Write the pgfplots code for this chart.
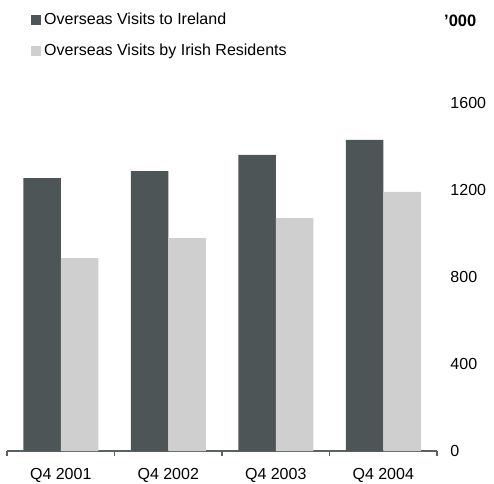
\documentclass[border=0pt]{standalone}
\usepackage{pgfplots}
\pgfplotsset{compat=1.18}
\usepackage{fontspec}
\setmainfont{Liberation Sans}
\definecolor{darkbar}{RGB}{77,85,87}
\definecolor{lightbar}{RGB}{207,207,207}
\definecolor{axisgray}{RGB}{90,98,100}
\begin{document}
\fontsize{16pt}{19pt}\selectfont
\begin{tikzpicture}
\begin{axis}[
    scale only axis,
    width=430pt,
    height=348pt,
    ybar=0pt,
    bar width=37.5pt,
    xmin=-0.5, xmax=3.5,
    ymin=0, ymax=1600,
    axis x line=bottom,
    axis y line=right,
    x axis line style={axisgray, line width=1.4pt, -},
    y axis line style={draw=none},
    xtick={0,1,2,3},
    xticklabels={Q4 2001, Q4 2002, Q4 2003, Q4 2004},
    minor xtick={-0.5,0.5,1.5,2.5,3.5},
    major x tick style={draw=none},
    minor x tick style={axisgray, line width=1.4pt},
    y tick style={draw=none},
    tick align=outside,
    minor tick length=5pt,
    xticklabel style={inner ysep=1pt, yshift=-12pt},
    ytick={0,400,800,1200,1600},
    yticklabel style={anchor=west, inner xsep=1pt, xshift=8pt},
    /pgf/number format/assume math mode=true,
    /pgf/number format/1000 sep={},
    tick label style={font=\fontsize{16pt}{19pt}\selectfont},
    clip=false,
    legend style={at={(rel axis cs:0,1)}, anchor=north west, xshift=24pt, yshift=92pt,
        draw=none, fill=none, inner sep=0pt, row sep=13pt,
        font=\fontsize{16pt}{19pt}\selectfont,
        nodes={inner xsep=3pt}},
    legend cell align=left,
    legend image code/.code={\fill[#1] (0pt,-5pt) rectangle (10pt,5pt);},
]
\addplot[fill=darkbar, draw=none] coordinates {(0,1255) (1,1287) (2,1361) (3,1430)};
\addplot[fill=lightbar, draw=none] coordinates {(0,887) (1,979) (2,1071) (3,1191)};
\legend{Overseas Visits to Ireland, Overseas Visits by Irish Residents}
\node[anchor=west, inner xsep=1pt, font=\bfseries\fontsize{16.5pt}{19pt}\selectfont] at ([xshift=6pt, yshift=82pt]rel axis cs:1,1) {’000};
\coordinate (sw) at (rel axis cs:0,0);
\end{axis}
\pgfresetboundingbox
\path ([shift={(-7pt,-32pt)}]sw) rectangle ([shift={(487pt,451pt)}]sw);
\end{tikzpicture}
\end{document}
